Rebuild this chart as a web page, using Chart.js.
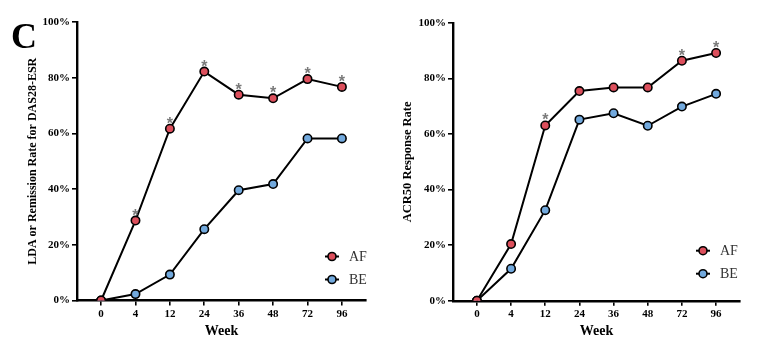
<!DOCTYPE html>
<html>
<head>
<meta charset="utf-8">
<script src="https://cdn.jsdelivr.net/npm/chart.js@4.4.1/dist/chart.umd.min.js"></script>
<style>
  body { margin: 0; background: #fff; width: 766px; height: 350px; position: relative; overflow: hidden; }
  canvas { position: absolute; top: 0; }
  #panelLetter { position: absolute; left: 11px; top: 15px; font: bold 36px 'Liberation Serif', serif; color: #000; }
</style>
</head>
<body>
<canvas id="chart1" width="383" height="350" style="left:0"></canvas>
<canvas id="chart2" width="383" height="350" style="left:383px"></canvas>
<div id="panelLetter">C</div>
<script>
// weeks on the x axis
const weeks = ['0', '4', '12', '24', '36', '48', '72', '96'];
const yTicks = [0, 20, 40, 60, 80, 100];
const seriesNames = ['AF', 'BE'];

// LDA or remission rate (DAS28-ESR), %
const ldaAF = [0, 28.7, 61.7, 82.2, 73.9, 72.6, 79.5, 76.7];
const ldaBE = [0, 2.3, 9.3, 25.6, 39.6, 41.8, 58.2, 58.2];
const ldaStars = [0, 1, 1, 1, 1, 1, 1, 1];

// ACR50 response rate, %
const acrAF = [0, 20.4, 63.1, 75.5, 76.8, 76.8, 86.4, 89.2];
const acrBE = [0, 11.5, 32.6, 65.2, 67.5, 63.0, 69.9, 74.5];
const acrStars = [0, 0, 1, 0, 0, 0, 1, 1];

const redFill = '#dc4f5c';
const blueFill = '#72a9dd';
const serif = "'Liberation Serif', 'Times New Roman', serif";

// asterisks above significant points + the little legend in the corner
const marksPlugin = {
  id: 'marks',
  afterDatasetsDraw(chart, args, opts) {
    const ctx = chart.ctx;
    const meta = chart.getDatasetMeta(0);
    ctx.save();
    ctx.fillStyle = '#7a7a7a';
    ctx.font = "bold 16px 'Liberation Sans', sans-serif";
    ctx.textAlign = 'center';
    ctx.textBaseline = 'alphabetic';
    opts.stars.forEach(function(s, i) {
      if (!s) return;
      const p = meta.data[i];
      ctx.fillText('*', p.x, p.y);
    });

    const area = chart.chartArea;
    chart.data.datasets.forEach(function(ds, i) {
      const x = area.right - opts.legendRight;
      const y = area.bottom - opts.legendBottom + i * 23;
      ctx.strokeStyle = '#000';
      ctx.lineWidth = 2;
      ctx.beginPath();
      ctx.moveTo(x - 7, y);
      ctx.lineTo(x + 7, y);
      ctx.stroke();
      ctx.lineWidth = 1.6;
      ctx.beginPath();
      ctx.arc(x, y, 4, 0, Math.PI * 2);
      ctx.fillStyle = ds.pointBackgroundColor;
      ctx.fill();
      ctx.stroke();
      ctx.fillStyle = '#333';
      ctx.font = '14px ' + serif;
      ctx.textAlign = 'left';
      ctx.textBaseline = 'middle';
      ctx.fillText(ds.label, x + 17, y + 1);
    });
    ctx.restore();
  }
};

function toPoints(values) {
  return values.map(function(v, i) { return { x: i, y: v }; });
}

function makeDataset(label, values, fill) {
  return {
    label: label,
    data: toPoints(values),
    borderColor: '#000',
    borderWidth: 2,
    pointRadius: 4.2,
    pointBorderWidth: 1.6,
    pointBorderColor: '#000',
    pointBackgroundColor: fill,
    tension: 0
  };
}

function generateChart(canvasId, cfg) {
  const config = {
    type: 'line',
    data: {
      datasets: [
        makeDataset(seriesNames[0], cfg.af, redFill),
        makeDataset(seriesNames[1], cfg.be, blueFill)
      ]
    },
    plugins: [marksPlugin],
    options: {
      responsive: false,
      animation: false,
      layout: { padding: { top: cfg.top, right: cfg.right, bottom: 0, left: 0 } },
      plugins: {
        legend: { display: false },
        tooltip: { enabled: false },
        marks: { stars: cfg.stars, legendRight: cfg.legendRight, legendBottom: cfg.legendBottom }
      },
      scales: {
        x: {
          type: 'linear',
          min: -0.7,
          max: 7.7,
          afterBuildTicks: function(scale) {
            scale.ticks = weeks.map(function(w, i) { return { value: i }; });
          },
          afterFit: function(scale) { scale.height = cfg.xHeight; },
          border: { display: true, color: '#000', width: 2.4 },
          grid: { display: true, drawOnChartArea: false, drawTicks: true, tickLength: 5, color: '#000', lineWidth: 1.6 },
          ticks: {
            padding: 2,
            color: '#000',
            font: { family: serif, size: 11, weight: 'bold' },
            callback: function(v) { return weeks[v]; }
          },
          title: {
            display: true,
            text: 'Week',
            color: '#000',
            font: { family: serif, size: 14, weight: 'bold' },
            padding: { top: 0, bottom: 10 }
          }
        },
        y: {
          min: 0,
          max: 100,
          afterBuildTicks: function(scale) {
            scale.ticks = yTicks.map(function(v) { return { value: v }; });
          },
          afterFit: function(scale) { scale.width = cfg.yWidth; },
          border: { display: true, color: '#000', width: 2.4 },
          grid: { display: true, drawOnChartArea: false, drawTicks: true, tickLength: 5, color: '#000', lineWidth: 1.6 },
          ticks: {
            padding: 2,
            color: '#000',
            font: { family: serif, size: 11, weight: 'bold' },
            callback: function(v) { return v + '%'; }
          },
          title: {
            display: true,
            text: cfg.yTitle,
            color: '#000',
            font: { family: serif, size: cfg.yTitleSize, weight: 'bold' },
            padding: { top: cfg.yTitlePad, bottom: 0 }
          }
        }
      }
    }
  };

  const ctx = document.getElementById(canvasId).getContext('2d');
  new Chart(ctx, config);
}

generateChart('chart1', {
  af: ldaAF, be: ldaBE, stars: ldaStars,
  yTitle: 'LDA or Remission Rate for DAS28-ESR', yTitleSize: 12, yTitlePad: 26,
  top: 22, right: 17, yWidth: 77, xHeight: 49.5,
  legendRight: 34, legendBottom: 44
});

generateChart('chart2', {
  af: acrAF, be: acrBE, stars: acrStars,
  yTitle: 'ACR50 Response Rate', yTitleSize: 12.5, yTitlePad: 17,
  top: 23, right: 26, yWidth: 70, xHeight: 49.3,
  legendRight: 37, legendBottom: 50
});
</script>
</body>
</html>
